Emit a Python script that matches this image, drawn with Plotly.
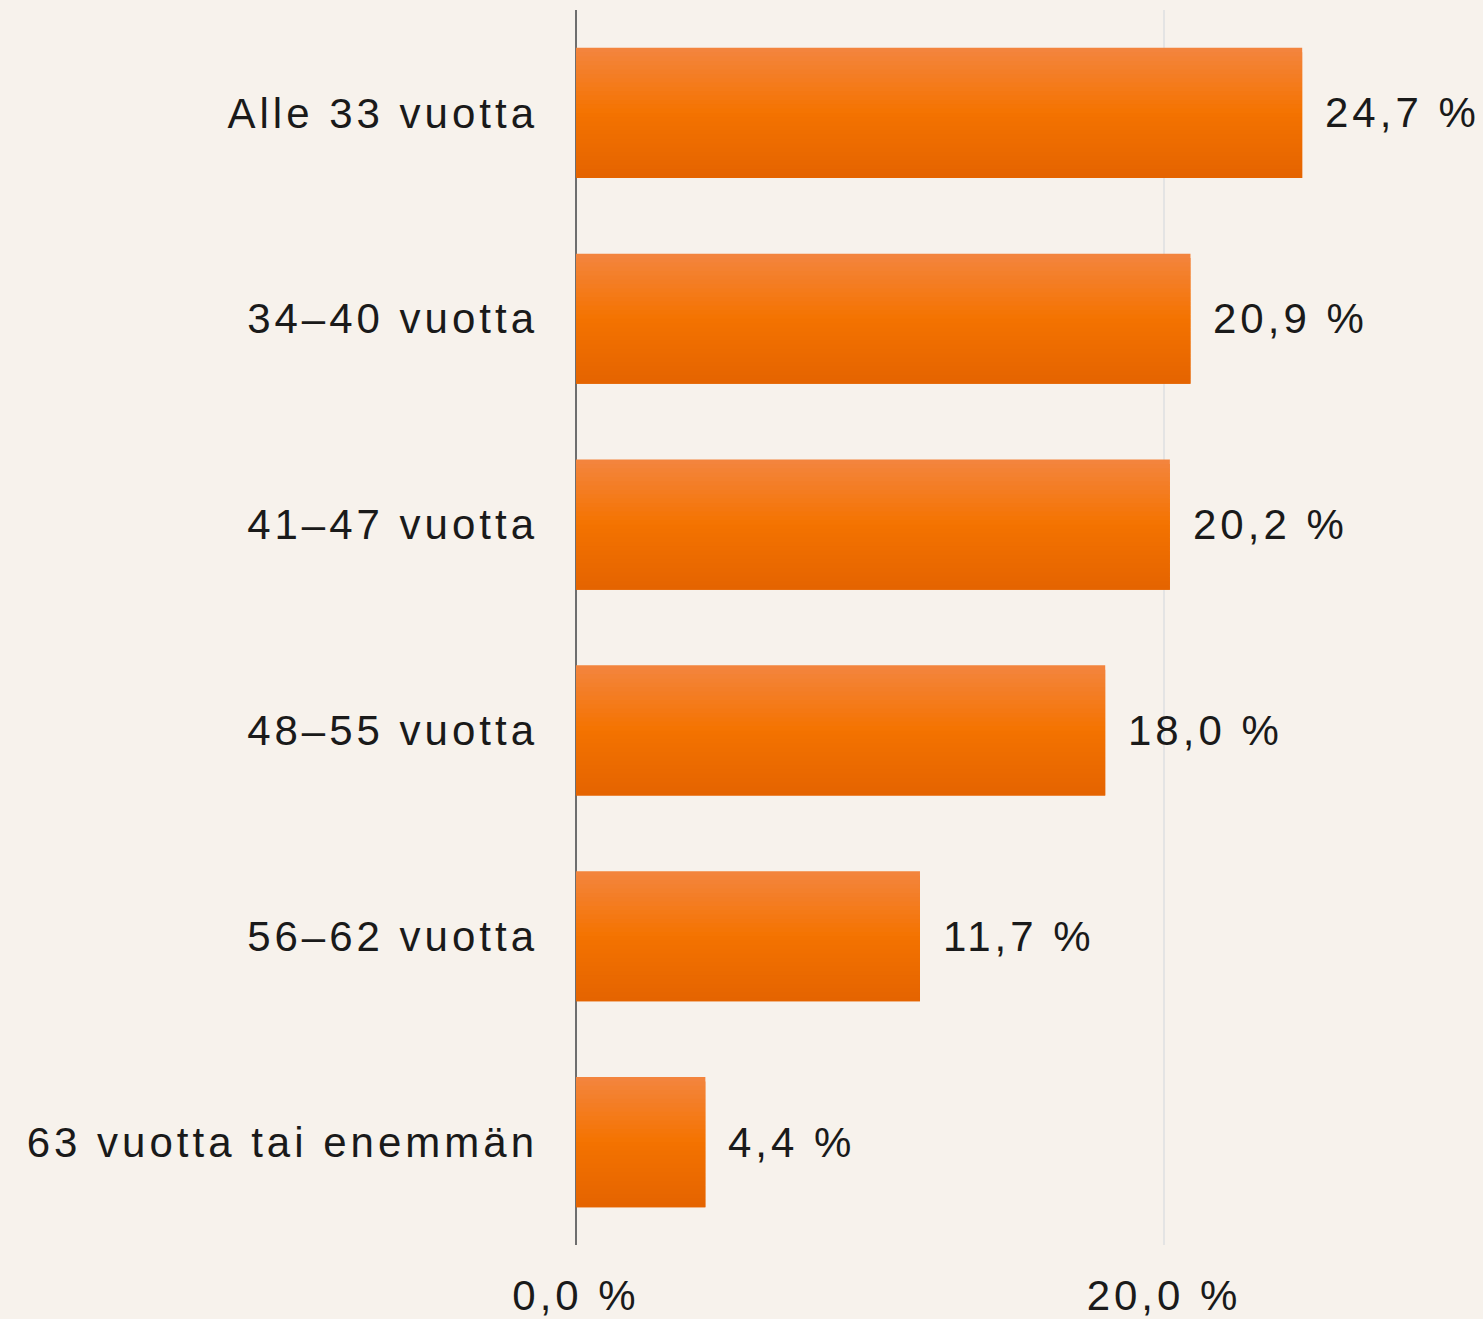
import plotly.graph_objects as go

CATEGORIES = ["Alle 33 vuotta", "34–40 vuotta", "41–47 vuotta", "48–55 vuotta",
              "56–62 vuotta", "63 vuotta tai enemmän"]
VALUES = [24.7, 20.9, 20.2, 18.0, 11.7, 4.4]
X_TICK_VALUES = [0, 20]
X_TICK_LABELS = ["0,0 %", "20,0 %"]

BG = "#F7F2EC"
TEXT = "#1A1A1A"
FONT = "Liberation Sans, Arial, sans-serif"
FS = 42
LS = "letter-spacing:4px"


def spaced(t):
    return f'<span style="{LS}">{t}</span>'


def lerp(c1, c2, t):
    a = [int(c1[i:i + 2], 16) for i in (1, 3, 5)]
    b = [int(c2[i:i + 2], 16) for i in (1, 3, 5)]
    return "#%02X%02X%02X" % tuple(round(a[k] + (b[k] - a[k]) * t) for k in range(3))


TOP, MID, BOT = "#F3853F", "#F47300", "#E46300"
BAR_W = 0.632
N = 30
sw = BAR_W / N

fig = go.Figure()
for i in range(N):
    t = (i + 0.5) / N
    col = lerp(TOP, MID, t / 0.5) if t < 0.5 else lerp(MID, BOT, (t - 0.5) / 0.5)
    w = sw * 2 if i < N - 1 else sw
    fig.add_trace(go.Bar(
        x=VALUES, y=CATEGORIES, orientation="h",
        width=w, offset=-BAR_W / 2 + i * sw,
        marker=dict(color=col, line=dict(width=0)),
        hoverinfo="skip" if i else "x+y", showlegend=False,
    ))

for c, v in zip(CATEGORIES, VALUES):
    fig.add_annotation(
        x=v, y=c, xref="x", yref="y", xanchor="left", yanchor="middle",
        xshift=21, showarrow=False,
        text=spaced(f"{v:.1f}".replace(".", ",") + " %"),
        font=dict(family=FONT, size=FS, color=TEXT),
    )

fig.update_layout(
    width=1483, height=1319,
    paper_bgcolor=BG, plot_bgcolor=BG,
    margin=dict(l=576, r=0, t=10, b=74),
    barmode="overlay",
    font=dict(family=FONT, size=FS, color=TEXT),
    xaxis=dict(
        range=[0, 30.85], tickvals=X_TICK_VALUES,
        ticktext=[spaced(t) for t in X_TICK_LABELS],
        showgrid=True, gridcolor="#E4E4E4", gridwidth=2,
        zeroline=True, zerolinecolor="#6E6E6E", zerolinewidth=2,
        showline=False, ticks="", ticklabelstandoff=22,
        tickfont=dict(family=FONT, size=FS, color=TEXT),
    ),
    yaxis=dict(
        categoryorder="array", categoryarray=CATEGORIES,
        tickvals=CATEGORIES, ticktext=[spaced(c) for c in CATEGORIES],
        range=[5.5, -0.5], showgrid=False, zeroline=False, showline=False,
        ticks="", ticklabelstandoff=37,
        tickfont=dict(family=FONT, size=FS, color=TEXT),
    ),
)

fig.write_html(
    "out.html",
    config={"displayModeBar": False},
    post_script="document.body.style.margin='0';document.body.style.background='%s';" % BG,
)
